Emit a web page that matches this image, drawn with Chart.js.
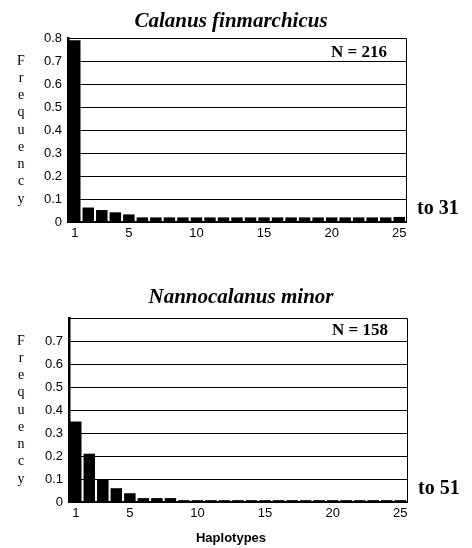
<!DOCTYPE html>
<html><head><meta charset="utf-8">
<script src="https://cdn.jsdelivr.net/npm/chart.js@4/dist/chart.umd.min.js"></script>
<style>
body{margin:0;background:#fff;width:472px;height:548px;position:relative;overflow:hidden}
canvas{position:absolute;left:0}
</style></head>
<body>
<canvas id="c1" width="472" height="270" style="top:0"></canvas>
<canvas id="c2" width="472" height="278" style="top:270px"></canvas>
<script>
const haplotypes = ['1','2','3','4','5','6','7','8','9','10','11','12','13','14','15','16','17','18','19','20','21','22','23','24','25'];
const xTickLabels = ['1','5','10','15','20','25'];
const calanusFreq = [0.79,0.063,0.052,0.042,0.033,0.02,0.02,0.02,0.02,0.02,0.02,0.02,0.02,0.02,0.02,0.02,0.02,0.02,0.02,0.02,0.02,0.02,0.02,0.02,0.022];
const nannoFreq = [0.35,0.21,0.10,0.06,0.038,0.017,0.017,0.017,0.008,0.008,0.008,0.008,0.008,0.008,0.008,0.008,0.008,0.008,0.008,0.008,0.008,0.008,0.008,0.008,0.008];
const yAxisLetters = ['F','r','e','q','u','e','n','c','y'];

const deco = {
  id: 'deco',
  afterDraw(chart, args, o) {
    const ctx = chart.ctx, a = chart.chartArea, ys = chart.scales.y;
    ctx.save();
    ctx.strokeStyle = '#000'; ctx.lineWidth = 1;
    ctx.beginPath();
    ctx.moveTo(a.left, a.top + 0.5); ctx.lineTo(a.right + 0.5, a.top + 0.5); ctx.lineTo(a.right + 0.5, a.bottom);
    ctx.stroke();
    ctx.fillStyle = '#000';
    ctx.textBaseline = 'alphabetic';
    ctx.font = 'bold italic 21px "Liberation Serif"';
    ctx.textAlign = 'center';
    ctx.fillText(o.title, o.titleX, o.titleY);
    ctx.font = 'bold 17px "Liberation Serif"';
    ctx.textAlign = 'right';
    ctx.fillText(o.nLabel, a.right - 19, o.nY);
    ctx.font = 'bold 20px "Liberation Serif"';
    ctx.textAlign = 'left';
    ctx.fillText(o.toLabel, a.right + 11, ys.getPixelForValue(0) - 8);
    ctx.font = '14px "Liberation Serif"';
    ctx.textAlign = 'center'; ctx.textBaseline = 'middle';
    const y0 = ys.getPixelForValue(0.7), y1 = ys.getPixelForValue(0.1);
    yAxisLetters.forEach((ch, i) => ctx.fillText(ch, 21, y0 + (y1 - y0) * i / (yAxisLetters.length - 1)));
    if (o.xTitle) {
      ctx.font = 'bold 13px "Liberation Sans"';
      ctx.fillText(o.xTitle, 231, o.xTitleY);
    }
    ctx.restore();
  }
};

function makeChart(id, values, yWidth, padTop, padRight, xHeight, showTop, deco_opts) {
  return new Chart(document.getElementById(id), {
    type: 'bar',
    data: { labels: haplotypes, datasets: [{ data: values, backgroundColor: '#000', borderWidth: 0, barPercentage: 0.85, categoryPercentage: 1.0 }] },
    options: {
      responsive: false, animation: false,
      layout: { padding: { left: 0, top: padTop, right: padRight, bottom: 0 } },
      plugins: { legend: { display: false }, tooltip: { enabled: false }, title: { display: false }, deco: deco_opts },
      scales: {
        x: {
          grid: { display: false, drawTicks: false },
          border: { display: true, color: '#000', width: 2 },
          ticks: {
            autoSkip: false, maxRotation: 0, minRotation: 0, padding: 4, color: '#000',
            font: { family: '"Liberation Sans"', size: 13 },
            callback: function(v, i) { const l = haplotypes[i]; return xTickLabels.includes(l) ? l : ''; }
          },
          afterFit: s => { s.height = xHeight; }
        },
        y: {
          min: 0, max: 0.8,
          grid: { color: '#000', lineWidth: 1, drawTicks: false },
          border: { display: true, color: '#000', width: 2.5 },
          ticks: {
            stepSize: 0.1, padding: 6, color: '#000',
            font: { family: '"Liberation Sans"', size: 13 },
            callback: v => { if (Math.abs(v) < 1e-9) return '0'; if (!showTop && Math.abs(v - 0.8) < 1e-9) return ''; return v.toFixed(1); }
          },
          afterFit: s => { s.width = yWidth; }
        }
      }
    },
    plugins: [deco]
  });
}

makeChart('c1', calanusFreq, 68, 38, 66, 48, true,
  { title: 'Calanus finmarchicus', titleX: 231, titleY: 27, nLabel: 'N = 216', nY: 57, toLabel: 'to 31' });
makeChart('c2', nannoFreq, 69, 48, 65, 46, false,
  { title: 'Nannocalanus minor', titleX: 241, titleY: 33, nLabel: 'N = 158', nY: 65, toLabel: 'to 51', xTitle: 'Haplotypes', xTitleY: 268 });
</script>
</body></html>
